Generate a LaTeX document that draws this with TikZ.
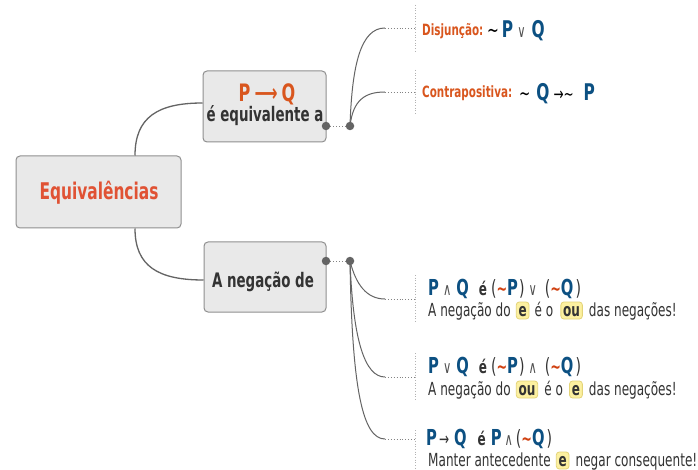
\documentclass[tikz,border=0pt]{standalone}
\usepackage{fontspec}
\setmainfont{DejaVu Sans}[FakeStretch=0.67]
\definecolor{qblue}{RGB}{12,80,130}
\definecolor{lorange}{RGB}{217,86,30}
\definecolor{torange}{RGB}{224,82,52}
\definecolor{tred}{RGB}{208,64,16}
\definecolor{dark}{RGB}{51,51,51}
\definecolor{opgray}{RGB}{80,80,80}
\definecolor{boxfill}{RGB}{233,233,233}
\definecolor{boxdraw}{RGB}{143,143,143}
\definecolor{linegray}{RGB}{100,100,100}
\definecolor{hlfill}{RGB}{252,240,160}
\definecolor{hlborder}{RGB}{228,212,120}
\newcommand\fsz[1]{\fontsize{#1}{#1}\selectfont}
\newcommand\hs[1]{\hspace{#1pt}}
\newcommand\pq[1]{{\fsz{22}\bfseries\color{qblue}#1}}
\newcommand\PQ[1]{{\fsz{23}\bfseries\color{qblue}#1}}
\newcommand\opr[1]{{\fsz{17}\color{opgray}#1}}
\newcommand\tl{{\fsz{19}\bfseries\color{tred}∼}}
\newcommand\lp{{\fsz{21}\color{dark}(}}
\newcommand\rp{{\fsz{21}\color{dark})}}
\newcommand\eac{{\fsz{18}\bfseries\color{dark}é}}
\begin{document}
\begin{tikzpicture}[x=1pt,y=-1pt,
  box/.style={draw=boxdraw, line width=1pt, fill=boxfill, rounded corners=4pt, inner sep=0pt},
  conn/.style={draw=linegray, line width=1.3pt},
  branch/.style={draw=linegray, line width=1pt},
  dotline/.style={draw=linegray!80, line width=0.9pt, dotted},
  vline/.style={draw=gray!60, line width=0.7pt, dotted},
  dot/.style={circle, fill=linegray, inner sep=0pt, minimum size=8.5pt},
  lab/.style={anchor=base west, inner sep=0pt, font=\fsz{15.5}\bfseries, text=lorange},
  frm/.style={anchor=base west, inner sep=0pt},
  txt/.style={anchor=base west, inner sep=0pt, font=\fsz{18}, text=dark},
  hl/.style={anchor=base west, fill=hlfill, draw=hlborder, line width=0.8pt, rounded corners=3pt,
    inner xsep=2.3pt, inner ysep=2pt, text height=12pt, text depth=1pt, font=\fsz{18}\bfseries, text=dark}]
\useasboundingbox (0,0) rectangle (698,470);
\fill[white] (0,0) rectangle (698,470);

% main boxes
\node[box, minimum width=165pt, minimum height=72pt] (main) at (98.5,192) {};
\node[anchor=base, inner sep=0pt, font=\fsz{23}\bfseries, text=torange] (maint) at (99,200) {Equivalências};

\node[box, minimum width=123pt, minimum height=71pt] (top) at (264.5,106.5) {};
\node[anchor=base, inner sep=0pt, font=\fsz{24}\bfseries, text=lorange] (topa) at (267,102) {P\,⟶\,Q};
\node[anchor=base, inner sep=0pt, font=\fsz{20}\bfseries, text=dark] (topb) at (265,122) {é equivalente a};

\node[box, minimum width=122pt, minimum height=70pt] (bot) at (265,277) {};
\node[anchor=base, inner sep=0pt, font=\fsz{20}\bfseries, text=dark] (bott) at (263,287) {A negação de};

% connectors from main
\draw[conn] ([xshift=36.5pt]main.north) .. controls +(0,-38) and +(-45,0) .. ([yshift=3.5pt]top.west);
\draw[conn] ([xshift=36.5pt]main.south) .. controls +(0,38) and +(-45,0) .. ([yshift=-3pt]bot.west);

% dots
\node[dot] (d1a) at (326,126) {};
\node[dot] (d1b) at (350,126) {};
\draw[dotline] (d1a) -- (d1b);
\node[dot] (d2a) at (326,261) {};
\node[dot] (d2b) at (350,261) {};
\draw[dotline] (d2a) -- (d2b);

% top branches
\coordinate (b1) at (385,28);  \coordinate (e1) at (415,28);
\coordinate (b2) at (385,92);  \coordinate (e2) at (415,92);
\draw[branch] (d1b.center) .. controls +(2,-62) and +(-24,0) .. (b1);
\draw[branch] (d1b.center) .. controls +(3,-26) and +(-20,0) .. (b2);
\draw[dotline] (b1) -- (e1);
\draw[dotline] (b2) -- (e2);
\coordinate (v1a) at (415,5);   \coordinate (v1b) at (415,52);
\coordinate (v2a) at (415,70);  \coordinate (v2b) at (415,115);
\draw[vline] (v1a) -- (v1b);
\draw[vline] (v2a) -- (v2b);

% bottom branches
\coordinate (b3) at (385,299); \coordinate (e3) at (415,299);
\coordinate (b4) at (385,377); \coordinate (e4) at (415,377);
\coordinate (b5) at (385,439); \coordinate (e5) at (415,439);
\draw[branch] (d2b.center) .. controls +(6,24) and +(-18,0) .. (b3);
\draw[branch] (d2b.center) .. controls +(3,80) and +(-20,0) .. (b4);
\draw[branch] (d2b.center) .. controls +(2,130) and +(-22,0) .. (b5);
\draw[dotline] (b3) -- (e3);
\draw[dotline] (b4) -- (e4);
\draw[dotline] (b5) -- (e5);
\coordinate (v3a) at (415,275); \coordinate (v3b) at (415,322);
\coordinate (v4a) at (415,353); \coordinate (v4b) at (415,400);
\coordinate (v5a) at (415,430); \coordinate (v5b) at (415,470);
\draw[vline] (v3a) -- (v3b);
\draw[vline] (v4a) -- (v4b);
\draw[vline] (v5a) -- (v5b);

% top labels
\node[lab] (dj) at (422,35.5) {Disjunção:};
\node[frm] (djf) at (487,37.5) {{\fsz{21}∼}\hs{3}\PQ{P}\hs{4}\opr{∨}\hs{6}\PQ{Q}};
\node[lab] (cp) at (422,98) {Contrapositiva:};
\node[frm] (cpf) at (519,101) {{\fsz{20}∼}\hs{6}\PQ{Q}\hs{4}{\fsz{18}→∼}\hs{10}\PQ{P}};

% bottom formulas
\node[frm] (f1) at (428,295) {\pq{P}\hs{4}\opr{∧}\hs{5}\pq{Q}\hs{10}\eac\hs{4}\lp\tl\pq{P}\hs{1}\rp\hs{4}\opr{∨}\hs{8}\lp\tl\pq{Q}\hs{2}\rp};
\node[txt] (l1a) at (428,316) {A negação do};
\node[hl] (l1b) at ([xshift=5pt]l1a.base east) {e};
\node[txt] (l1c) at ([xshift=5pt]l1b.base east) {é o};
\node[hl] (l1d) at ([xshift=7pt]l1c.base east) {ou};
\node[txt] (l1e) at ([xshift=6pt]l1d.base east) {das negações!};

\node[frm] (f2) at (428,373) {\pq{P}\hs{4}\opr{∨}\hs{5}\pq{Q}\hs{10}\eac\hs{4}\lp\tl\pq{P}\hs{1}\rp\hs{4}\opr{∧}\hs{8}\lp\tl\pq{Q}\hs{2}\rp};
\node[txt] (l2a) at (428,395) {A negação do};
\node[hl] (l2b) at ([xshift=5pt]l2a.base east) {ou};
\node[txt] (l2c) at ([xshift=6pt]l2b.base east) {é o};
\node[hl] (l2d) at ([xshift=6pt]l2c.base east) {e};
\node[txt] (l2e) at ([xshift=6pt]l2d.base east) {das negações!};

\node[frm] (f3) at (426,445) {\pq{P}\hs{2}{\fsz{18}\color{dark}→}\hs{5}\pq{Q}\hs{11}\eac\hs{5}\pq{P}\hs{3}\opr{∧}\hs{3}\lp\tl\pq{Q}\hs{2}\rp};
\node[txt] (l3a) at (428,466) {Manter antecedente};
\node[hl] (l3b) at ([xshift=5pt]l3a.base east) {e};
\node[txt] (l3c) at ([xshift=6pt]l3b.base east) {negar consequente!};
\end{tikzpicture}
\end{document}
